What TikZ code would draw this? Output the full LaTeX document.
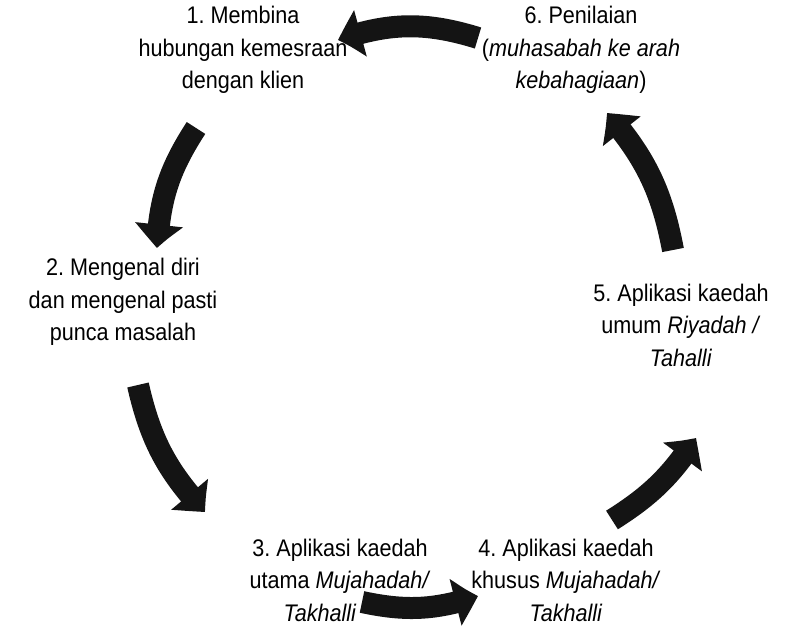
\documentclass[tikz,border=0pt]{standalone}
\usepackage{fontspec}
\setmainfont{Liberation Sans}[FakeStretch=0.9]
\usetikzlibrary{arrows.meta,bending}
\frenchspacing
\begin{document}
\begin{tikzpicture}[x=1pt,y=1pt,
  lbl/.style={align=center,font=\fontsize{24}{32.5}\selectfont,inner sep=0pt},
  blk/.style={line width=22pt,line cap=butt,black!92,-{Triangle[length=24pt,width=46pt,bend]}}]
\useasboundingbox (0,0) rectangle (798,626);
\node[lbl] (n1) at (243,576) {1. Membina\\hubungan kemesraan\\dengan klien};
\node[lbl] (n6) at (581,576) {6. Penilaian\\(\textit{muhasabah ke arah}\\\textit{kebahagiaan})};
\node[lbl] (n2) at (123,324) {2. Mengenal diri\\dan mengenal pasti\\punca masalah};
\node[lbl] (n5) at (681,301) {5. Aplikasi kaedah\\umum \textit{Riyadah /}\\\textit{Tahalli}};
\node[lbl] (n3) at (340,46) {3. Aplikasi kaedah\\utama \textit{Mujahadah/}\\\textit{Takhalli}\hspace*{40pt}};
\node[lbl] (n4) at (566,46) {4. Aplikasi kaedah\\khusus \textit{Mujahadah/}\\\textit{Takhalli}};
\coordinate (a1) at (478,588); \coordinate (a2) at (338,586);
\coordinate (b1) at (196,498); \coordinate (b2) at (157,378);
\coordinate (c1) at (138,241); \coordinate (c2) at (205,114);
\coordinate (d1) at (362,24);  \coordinate (d2) at (478,30);
\coordinate (e1) at (612,106); \coordinate (e2) at (696,188);
\coordinate (f1) at (673,376); \coordinate (f2) at (607,513);
\draw[blk] (a1) to[bend right=18] (a2);
\draw[blk] (b1) to[bend right=15] (b2);
\draw[blk] (c1) to[bend right=15] (c2);
\draw[blk] (d1) to[bend right=15] (d2);
\draw[blk] (e1) to[bend right=12] (e2);
\draw[blk] (f1) to[bend right=15] (f2);
\end{tikzpicture}
\end{document}
